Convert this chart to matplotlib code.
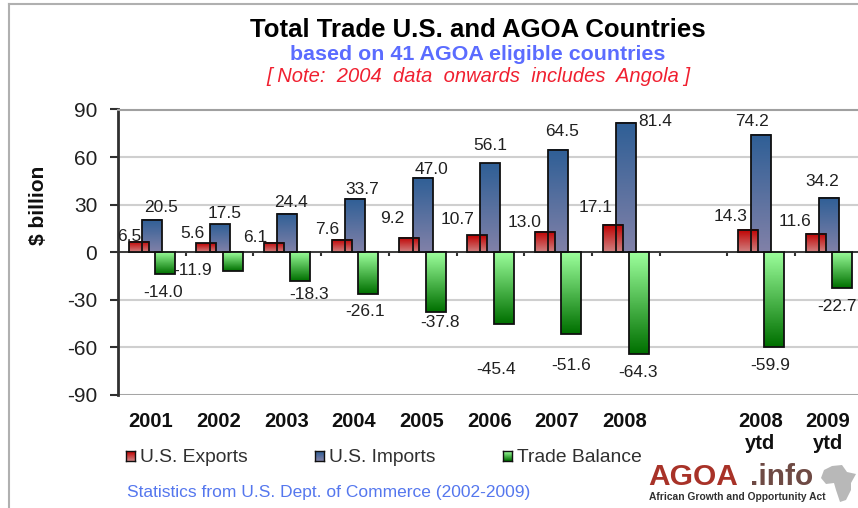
# -*- coding:utf-8 -*-
import numpy as np
import matplotlib
matplotlib.use('Agg')
import matplotlib.pyplot as plt
from matplotlib.colors import LinearSegmentedColormap
from matplotlib.patches import Polygon

years = ['2001', '2002', '2003', '2004', '2005', '2006', '2007', '2008', '', '2008\nytd', '2009\nytd']
exports = [6.5, 5.6, 6.1, 7.6, 9.2, 10.7, 13.0, 17.1, None, 14.3, 11.6]
imports = [20.5, 17.5, 24.4, 33.7, 47.0, 56.1, 64.5, 81.4, None, 74.2, 34.2]
balance = [-14.0, -11.9, -18.3, -26.1, -37.8, -45.4, -51.6, -64.3, None, -59.9, -22.7]
yticks = [-90, -60, -30, 0, 30, 60, 90]

W, H = 858, 508
plt.rcParams['font.family'] = ['Liberation Sans', 'DejaVu Sans']
plt.rcParams['axes.unicode_minus'] = False

RED = ('#c00000', '#d08080')
BLUE = ('#2f5f96', '#8181a8')
GREEN = ('#9cff9c', '#007000')


def fx(x):
    return x / W


def fy(y):
    return 1 - y / H


def make_cmap(colors):
    return LinearSegmentedColormap.from_list('g', list(colors))


def gradient_bar(ax, x, v, width, colors):
    # colour runs from the top edge of the bar to its bottom edge
    y0, y1 = min(0, v), max(0, v)
    grad = np.linspace(0, 1, 64).reshape(-1, 1)
    ax.imshow(grad, extent=(x - width / 2, x + width / 2, y0, y1), origin='upper',
              aspect='auto', cmap=make_cmap(colors), zorder=3)
    ax.bar(x, v, width, facecolor='none', edgecolor='#101010', linewidth=1.3, zorder=4)


fig = plt.figure(figsize=(W / 100, H / 100), dpi=100)
ax = fig.add_axes([fx(118), fy(395), fx(W - 118), (395 - 109.5) / H])

width = 0.295
shift = 0.195
for i in range(len(years)):
    if imports[i] is None:
        continue
    gradient_bar(ax, i + 0.5, imports[i], width, BLUE)
    gradient_bar(ax, i + 0.5 - shift, exports[i], width, RED)
    gradient_bar(ax, i + 0.5 + shift, balance[i], width, GREEN)

ax.set_xlim(0, 10.93)
ax.set_ylim(-90, 90)
ax.set_yticks(yticks)
ax.tick_params(axis='y', labelsize=15, length=6, width=1.5, color='#303030', labelcolor='#202020', pad=9)
ax.yaxis.grid(True, color='#cfcfcf', linewidth=1.5, zorder=0)
ax.set_axisbelow(True)
ax.set_xticks(np.arange(1, 11))
ax.set_xticklabels([])
ax.tick_params(axis='x', direction='out', length=3, width=1.5, color='#303030')
ax.spines['bottom'].set_position(('data', 0))
ax.spines['bottom'].set_color('#303030')
ax.spines['bottom'].set_linewidth(1.3)
ax.spines['left'].set_color('#303030')
ax.spines['left'].set_linewidth(2)
ax.spines['top'].set_color('#a0a0a0')
ax.spines['top'].set_linewidth(1.5)
ax.spines['right'].set_visible(False)
ax.axhline(-90, color='#a0a0a0', linewidth=2, zorder=1)

# data labels, nudged by hand like the original (offsets in pixels, up is positive)
exp_off = [(-9, 5), (-14, 10), (-19, 5), (-15, 11), (-17, 19), (-20, 16), (-20, 9), (-17, 18), None, (-17, 13), (-21, 12)]
imp_off = [(9, 12), (5, 11), (4, 11), (7, 9), (9, 8), (0, 18), (4, 18), (29, 2), None, (-9, 13), (-7, 17)]
bal_off = [(-2, -18), (-40, 1), (9, -13), (-3, -18), (4, -10), (-8, -45), (0, -31), (-1, -18), None, (-4, -18), (-5, -18)]


def value_label(x, v, off):
    ax.annotate('%.1f' % v, (x, v), xytext=(off[0] * 0.72, off[1] * 0.72), textcoords='offset points',
                ha='center', va='center', fontsize=12.5, color='#202020', zorder=6, annotation_clip=False)


for i in range(len(years)):
    if imports[i] is None:
        continue
    value_label(i + 0.5 - shift, exports[i], exp_off[i])
    value_label(i + 0.5, imports[i], imp_off[i])
    value_label(i + 0.5 + shift, balance[i], bal_off[i])

# category labels sit below the plot rather than on the zero line
for i, name in enumerate(years):
    fig.text(fx(118 + (i + 0.5) * (W - 118) / 10.93 - 1), fy(412), name, ha='center', va='top', fontsize=14.5,
             fontweight='bold', color='#101010', linespacing=1.2)

fig.text(fx(478), fy(30), 'Total Trade U.S. and AGOA Countries', ha='center', va='center',
         fontsize=18.5, fontweight='bold', color='black')
fig.text(fx(478), fy(55), 'based on 41 AGOA eligible countries', ha='center', va='center',
         fontsize=15.4, fontweight='bold', color='#5b6cff')
fig.text(fx(478), fy(77), '[ Note:  2004  data  onwards  includes  Angola ]', ha='center', va='center',
         fontsize=14.5, style='italic', color='#f02030')
fig.text(fx(39), fy(205), '$ billion', rotation=90, ha='center', va='center', fontsize=15,
         fontweight='bold', color='#101010')

# legend
for x, name, colors in [(126, 'U.S. Exports', RED), (315, 'U.S. Imports', BLUE), (503, 'Trade Balance', GREEN)]:
    key = fig.add_axes([fx(x), fy(461), 9 / W, 10 / H])
    key.imshow(np.linspace(0, 1, 16).reshape(-1, 1), aspect='auto', cmap=make_cmap(colors))
    key.set_xticks([])
    key.set_yticks([])
    for s in key.spines.values():
        s.set_color('#101010')
        s.set_linewidth(1)
    fig.text(fx(x + 14), fy(457), name, ha='left', va='center', fontsize=13.9, color='#303030')

fig.text(fx(127), fy(492), 'Statistics from U.S. Dept. of Commerce (2002-2009)', ha='left', va='center',
         fontsize=12.5, color='#5577ee')

# logo
fig.text(fx(648), fy(477), 'AGOA', ha='left', va='center', fontsize=21.5, fontweight='bold', color='#a83228')
fig.text(fx(750), fy(477), '.info', ha='left', va='center', fontsize=21.5, fontweight='bold', color='#6e4a44')
fig.text(fx(649), fy(497), 'African Growth and Opportunity Act', ha='left', va='center', fontsize=7.4,
         fontweight='bold', color='#303030')
africa = [(824, 470), (832, 466), (842, 465), (847, 472), (856, 474), (851, 483), (851, 490),
          (846, 500), (840, 502), (836, 490), (834, 483), (826, 484), (821, 478)]
fig.patches.append(Polygon([(fx(x), fy(y)) for x, y in africa], closed=True, transform=fig.transFigure,
                           facecolor='#b8b8b8', edgecolor='none', zorder=-1))

# picture frame
fig.add_artist(plt.Line2D([fx(9), fx(9)], [fy(4), fy(508)], color='#b0b0b0', linewidth=1.5))
fig.add_artist(plt.Line2D([fx(9), fx(858)], [fy(4), fy(4)], color='#b0b0b0', linewidth=1.5))

fig.savefig('out.png', dpi=100)
